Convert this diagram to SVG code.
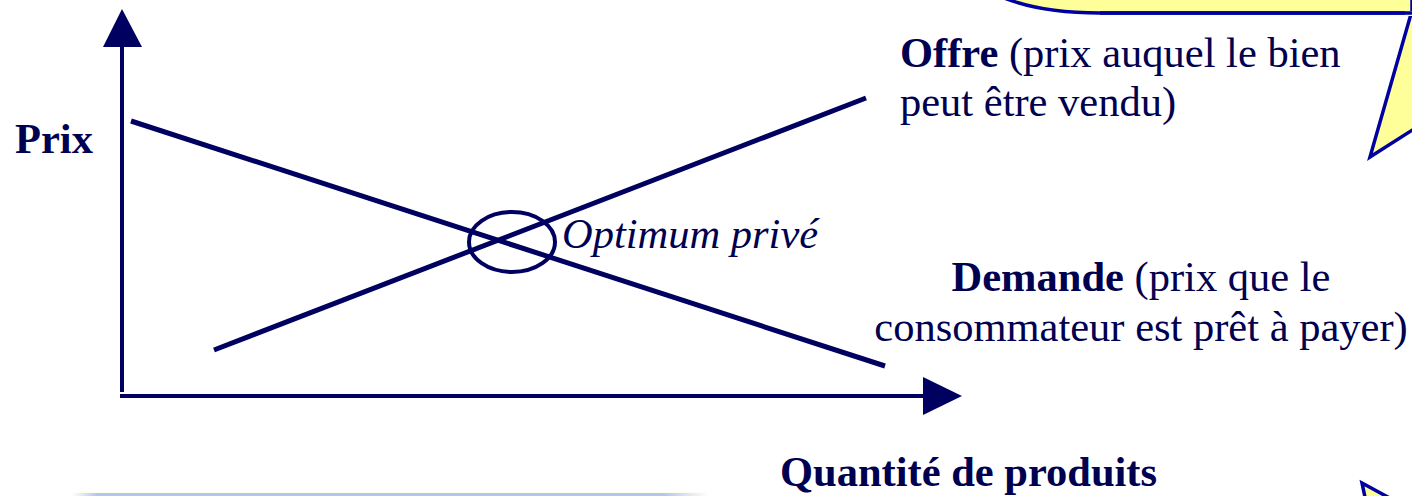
<svg xmlns="http://www.w3.org/2000/svg" width="1412" height="496" viewBox="0 0 1412 496">
<style>
.ax{stroke:#000060;stroke-width:4;fill:none}
.ln{stroke:#000060;stroke-width:5;fill:none;stroke-linecap:butt}
.t{font-family:"Liberation Serif","Times New Roman",serif;font-size:42.5px;fill:#000050}
.b{font-weight:bold}
.call{fill:#ffff99;stroke:#0000a0;stroke-width:3.5;stroke-linejoin:miter}
</style>
<defs>
<linearGradient id="fade" x1="0" x2="1" y1="0" y2="0">
<stop offset="0" stop-color="#b4c6ee" stop-opacity="0"/>
<stop offset="0.04" stop-color="#b4c6ee"/>
<stop offset="0.93" stop-color="#b4c6ee"/>
<stop offset="1" stop-color="#b4c6ee" stop-opacity="0"/>
</linearGradient>
</defs>
<rect width="1412" height="496" fill="#ffffff"/>
<g id="callout-top">
<path class="call" d="M995,-6 Q1035,13 1100,13 L1412,13 L1412,-20 L995,-20 Z"/>
<path class="call" d="M1411,14 L1370,157 L1414,129 L1414,14 Z"/>
<path d="M1405,11 L1414,11 L1414,16 L1405,16 Z" fill="#ffff99"/>
<line x1="1100" y1="13" x2="1412" y2="13" stroke="#0000a0" stroke-width="3.5"/>
</g>
<g id="callout-bottom-right">
<path class="call" d="M1362,483 L1430,520 L1372,530 Z"/>
</g>
<g id="box-bottom-left">
<rect x="72" y="493" width="636" height="10" fill="url(#fade)"/>
<rect x="72" y="492" width="636" height="1" fill="#fffff0"/>
</g>
<g id="connectors">
<line class="ax" x1="122" y1="45" x2="122" y2="392"/>
<polygon points="122,9 103,47 142,47" fill="#000060"/>
<line class="ax" x1="120" y1="396" x2="925" y2="396"/>
<polygon points="962,396 923,377 923,415" fill="#000060"/>
<line class="ln" x1="131" y1="121" x2="885" y2="366"/>
<line class="ln" x1="214" y1="350" x2="866" y2="98"/>
</g>
<g id="optimum">
<ellipse cx="512" cy="242" rx="43" ry="30" stroke="#000060" stroke-width="4" fill="none"/>
<text class="t" x="562" y="248" font-style="italic">Optimum privé</text>
</g>
<g id="prix">
<text class="t b" x="15" y="153">Prix</text>
</g>
<g id="offre">
<text class="t" x="900" y="67"><tspan class="b">Offre</tspan> (prix auquel le bien</text>
<text class="t" x="900" y="116">peut être vendu)</text>
</g>
<g id="demande">
<text class="t" x="1141" y="291" text-anchor="middle"><tspan class="b">Demande</tspan> (prix que le</text>
<text class="t" x="1141" y="341" text-anchor="middle">consommateur est prêt à payer)</text>
</g>
<g id="quantite">
<text class="t b" x="780" y="486">Quantité de produits</text>
</g>
</svg>
